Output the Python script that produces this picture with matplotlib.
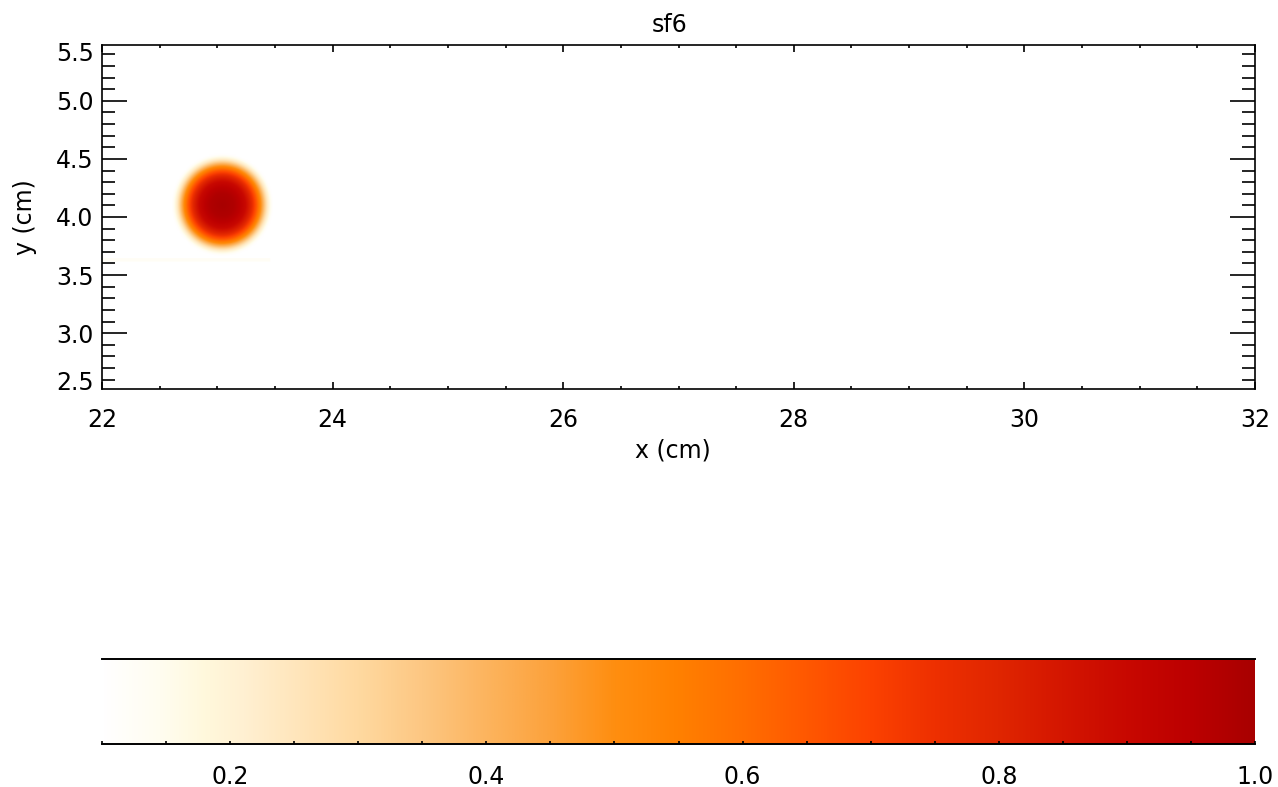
import numpy as np
import matplotlib
matplotlib.use("Agg")
import matplotlib.pyplot as plt
from matplotlib.colors import LinearSegmentedColormap, Normalize
from matplotlib.ticker import MultipleLocator, FixedLocator

# ---------------- data ----------------
title = "sf6"
x_range = (22.0, 32.0)
y_range = (2.52, 5.48)
x_major = [22, 24, 26, 28, 30, 32]
y_major = [3.0, 3.5, 4.0, 4.5, 5.0]
y_edge_labels = [(5.40, "5.5"), (2.57, "2.5")]

# blob: centre and radial profile (radius in cm -> value)
blob_center = (23.04, 4.105)
profile_r = [0.00, 0.10, 0.15, 0.20, 0.25, 0.30, 0.33, 0.36, 0.39, 0.42, 0.45]
profile_v = [1.00, 0.98, 0.95, 0.90, 0.80, 0.64, 0.52, 0.38, 0.24, 0.14, 0.08]

# faint horizontal band
band_x = (22.0, 23.45)
band_y = (3.615, 3.65)
band_value = 0.13

# colour bar
cb_range = (0.1, 1.0)
cb_ticks = [0.2, 0.4, 0.6, 0.8, 1.0]
cb_tick_labels = ["0.2", "0.4", "0.6", "0.8", "1.0"]

# colour table (value, colour)
cmap_vals = [0.10, 0.145, 0.18, 0.21, 0.25, 0.30, 0.35, 0.40, 0.45, 0.50,
             0.55, 0.60, 0.65, 0.70, 0.75, 0.80, 0.85, 0.90, 0.95, 1.00]
cmap_cols = ["#ffffff", "#fffdf0", "#fff8dc", "#fff0d2", "#ffe6bc", "#ffd9a0",
             "#fdc782", "#fcb45e", "#fca23c", "#ff8e10", "#ff8000", "#ff6e00",
             "#ff5800", "#fc4200", "#ee3000", "#e02600", "#d41600", "#c80800",
             "#bc0000", "#a80000"]

# ---------------- colormap ----------------
vmin, vmax = cb_range
pos = [(v - vmin) / (vmax - vmin) for v in cmap_vals]
cmap = LinearSegmentedColormap.from_list("idl", list(zip(pos, cmap_cols)), N=512)
cmap.set_under("white")
norm = Normalize(vmin=vmin, vmax=vmax)

# ---------------- field ----------------
xs = np.linspace(x_range[0], x_range[1], 1001)
ys = np.linspace(y_range[0], y_range[1], 297)
X, Y = np.meshgrid(xs, ys)
R = np.hypot(X - blob_center[0], Y - blob_center[1])
field = np.interp(R, profile_r, profile_v, right=0.0)
band = (X >= band_x[0]) & (X <= band_x[1]) & (Y >= band_y[0]) & (Y <= band_y[1])
field = np.where(band & (field < band_value), band_value, field)

# ---------------- figure ----------------
plt.rcParams['font.family'] = ['DejaVu Sans']
fs = 17
fig = plt.figure(figsize=(12.78, 7.87), dpi=100)
W, H = 1278.0, 787.0

ax = fig.add_axes([102 / W, 1 - 389 / H, 1153 / W, 344 / H])
ax.imshow(field, extent=[x_range[0], x_range[1], y_range[0], y_range[1]],
          origin="lower", aspect="auto", cmap=cmap, norm=norm,
          interpolation="bilinear")
ax.set_xlim(*x_range)
ax.set_ylim(*y_range)

for s in ax.spines.values():
    s.set_linewidth(1.2)

ax.xaxis.set_major_locator(FixedLocator(x_major))
ax.xaxis.set_minor_locator(MultipleLocator(0.5))
ax.yaxis.set_major_locator(FixedLocator(y_major))
ax.yaxis.set_minor_locator(MultipleLocator(0.1))
ax.set_xticklabels([str(v) for v in x_major])
ax.set_yticklabels(["%.1f" % v for v in y_major])

ax.tick_params(axis="x", which="major", direction="in", top=True, bottom=True,
               length=5, width=1.2, labelsize=fs, pad=14)
ax.tick_params(axis="x", which="minor", direction="in", top=True, bottom=True,
               length=2.2, width=1.2)
ax.tick_params(axis="y", which="major", direction="in", left=True, right=True,
               length=18, width=1.2, labelsize=fs, pad=6)
ax.tick_params(axis="y", which="minor", direction="in", left=True, right=True,
               length=9.4, width=1.2)

for yv, lab in y_edge_labels:
    ax.text(-8 / 1153, yv, lab, transform=ax.get_yaxis_transform(),
            ha="right", va="center", fontsize=fs)

ax.set_xlabel("x (cm)", fontsize=fs)
ax.xaxis.set_label_coords(0.495, -0.145)
ax.set_ylabel("y (cm)", fontsize=fs)
ax.yaxis.set_label_coords(-0.056, 0.5)
ax.set_title(title, fontsize=fs, x=0.4926, pad=9)

# ---------------- colour bar ----------------
cax = fig.add_axes([102 / W, 1 - 744 / H, 1153 / W, 85 / H])
grad = np.linspace(vmin, vmax, 1024).reshape(1, -1)
cax.imshow(grad, extent=[vmin, vmax, 0, 1], aspect="auto", cmap=cmap,
           norm=norm, interpolation="bilinear", origin="lower")
cax.set_xlim(vmin, vmax)
cax.set_ylim(0, 1)
cax.spines["left"].set_visible(False)
cax.spines["right"].set_visible(False)
cax.spines["top"].set_linewidth(1.4)
cax.spines["bottom"].set_linewidth(1.4)
cax.set_yticks([])
cax.xaxis.set_major_locator(FixedLocator(cb_ticks))
cax.set_xticklabels(cb_tick_labels)
cax.xaxis.set_minor_locator(MultipleLocator(0.05))
cax.tick_params(axis="x", which="both", direction="in", bottom=True, top=False,
                length=2.2, width=1.2, labelsize=fs, pad=15)

fig.savefig("out.png", dpi=100)
